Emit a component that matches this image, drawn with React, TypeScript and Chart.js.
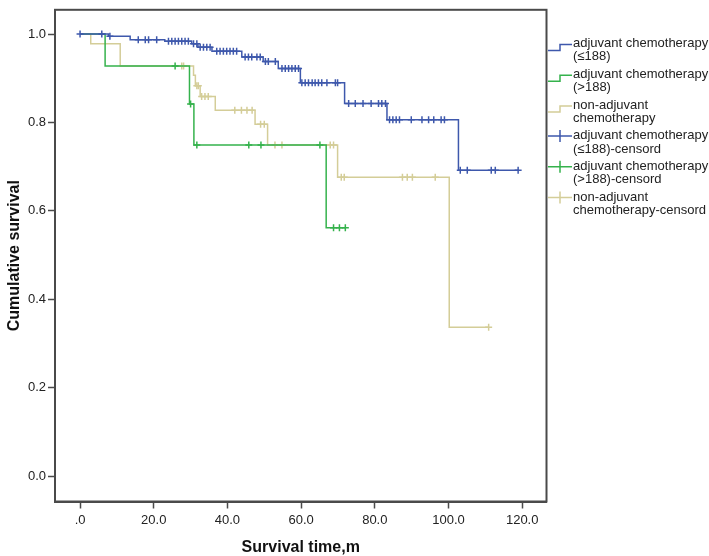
import React, { useEffect, useRef } from "react";
import { Chart, registerables } from "chart.js";
Chart.register(...registerables);

const xTickValues = [0, 20, 40, 60, 80, 100, 120];
const yTickValues = [0, 0.2, 0.4, 0.6, 0.8, 1.0];

// adjuvant chemotherapy (<=188)
const lowTimes = [0, 7.7, 13.6, 23.0, 30.3, 32.0, 35.8, 43.9, 49.7, 53.8, 59.8, 71.8, 83.3, 102.7, 118.9];
const lowSurvival = [1, 0.995, 0.9875, 0.984, 0.978, 0.97, 0.961, 0.948, 0.938, 0.922, 0.89, 0.843, 0.806, 0.692, 0.692];
const lowCensorTimes = [0, 5.9, 8.1, 15.8, 17.7, 18.6, 20.8, 24.0, 24.9, 25.8, 26.7, 27.6, 28.5, 29.4, 30.8, 31.7, 32.6, 33.5, 34.4, 35.3, 37.1, 38.0, 38.9, 39.8, 40.7, 41.6, 42.5, 44.8, 45.7, 46.6, 48.0, 48.9, 50.3, 51.1, 53.0, 54.8, 55.7, 56.6, 57.5, 58.4, 59.3, 60.2, 61.1, 62.0, 63.0, 63.8, 64.7, 65.6, 67.0, 69.3, 69.9, 72.9, 74.7, 76.8, 79.0, 81.0, 81.9, 82.9, 84.0, 84.9, 85.8, 86.7, 89.9, 92.8, 94.6, 96.0, 98.0, 98.9, 103.2, 105.1, 111.6, 112.7, 118.9];

// adjuvant chemotherapy (>188)
const highTimes = [0, 6.8, 29.7, 30.9, 66.8, 72.0];
const highSurvival = [1, 0.928, 0.842, 0.749, 0.562, 0.562];
const highCensorTimes = [25.8, 30.0, 31.7, 45.8, 49.1, 65.1, 68.8, 70.4, 72.0];

// non-adjuvant chemotherapy
const nonTimes = [0, 2.9, 10.9, 30.8, 31.3, 32.6, 36.7, 47.5, 50.9, 69.9, 100.2, 110.9];
const nonSurvival = [1, 0.978, 0.928, 0.907, 0.883, 0.859, 0.828, 0.796, 0.749, 0.676, 0.337, 0.337];
const nonCensorTimes = [27.6, 28.1, 31.7, 32.1, 33.0, 33.9, 34.8, 42.0, 43.8, 45.3, 46.7, 49.0, 50.0, 52.9, 54.8, 67.9, 68.8, 70.9, 71.7, 87.5, 88.8, 90.2, 96.4, 110.9];

const BLUE = "#3e58ac";
const GREEN = "#35b24c";
const BEIGE = "#d4cd98";
const FONT = "'Liberation Sans', Arial, sans-serif";

const legendItems = [
  { kind: "line", color: BLUE, lines: ["adjuvant chemotherapy", "(≤188)"] },
  { kind: "line", color: GREEN, lines: ["adjuvant chemotherapy", "(>188)"] },
  { kind: "line", color: BEIGE, lines: ["non-adjuvant", "chemotherapy"] },
  { kind: "cross", color: BLUE, lines: ["adjuvant chemotherapy", "(≤188)-censord"] },
  { kind: "cross", color: GREEN, lines: ["adjuvant chemotherapy", "(>188)-censord"] },
  { kind: "cross", color: BEIGE, lines: ["non-adjuvant", "chemotherapy-censord"] },
];

function stepAt(times: number[], surv: number[], t: number) {
  let v = surv[0];
  for (let i = 0; i < times.length; i++) if (times[i] <= t) v = surv[i];
  return v;
}

function curve(times: number[], surv: number[]) {
  return times.map((t, i) => ({ x: t, y: surv[i] }));
}

function censors(times: number[], surv: number[], cens: number[]) {
  return cens.map((t) => ({ x: t, y: stepAt(times, surv, t) }));
}

const framePlugin = {
  id: "frameAndLegend",
  afterDraw(chart: any) {
    const { ctx, chartArea } = chart;
    ctx.save();
    ctx.strokeStyle = "#4a4a4a";
    ctx.lineWidth = 2;
    ctx.strokeRect(chartArea.left, chartArea.top, chartArea.right - chartArea.left, chartArea.bottom - chartArea.top);

    // legend
    ctx.font = `13px ${FONT}`;
    ctx.fillStyle = "#222";
    ctx.textBaseline = "middle";
    ctx.textAlign = "left";
    legendItems.forEach((it, i) => {
      const y0 = 43.5 + 30.8 * i;
      ctx.strokeStyle = it.color;
      ctx.lineWidth = 1.5;
      ctx.beginPath();
      if (it.kind === "line") {
        ctx.moveTo(548, y0 + 7);
        ctx.lineTo(560, y0 + 7);
        ctx.lineTo(560, y0 + 1);
        ctx.lineTo(572, y0 + 1);
      } else {
        ctx.moveTo(548, y0);
        ctx.lineTo(572, y0);
        ctx.moveTo(560, y0 - 6);
        ctx.lineTo(560, y0 + 6);
      }
      ctx.stroke();
      it.lines.forEach((s, j) => ctx.fillText(s, 573, y0 + j * 13.2));
    });
    ctx.restore();
  },
};

export default function App() {
  const ref = useRef<HTMLCanvasElement | null>(null);
  useEffect(() => {
    document.body.style.margin = "0";
    const lineDs = (data: any[], color: string) => ({
      data,
      showLine: true,
      stepped: true,
      borderColor: color,
      backgroundColor: color,
      borderWidth: 1.5,
      pointRadius: 0,
      fill: false,
    });
    const censorDs = (data: any[], color: string) => ({
      data,
      showLine: false,
      pointStyle: "cross",
      pointRadius: 3.5,
      pointBorderWidth: 1.5,
      borderColor: color,
      backgroundColor: color,
    });
    const chart = new Chart(ref.current as HTMLCanvasElement, {
      type: "scatter",
      data: {
        datasets: [
          lineDs(curve(lowTimes, lowSurvival), BLUE),
          censorDs(censors(lowTimes, lowSurvival, lowCensorTimes), BLUE),
          lineDs(curve(highTimes, highSurvival), GREEN),
          censorDs(censors(highTimes, highSurvival, highCensorTimes), GREEN),
          lineDs(curve(nonTimes, nonSurvival), BEIGE),
          censorDs(censors(nonTimes, nonSurvival, nonCensorTimes), BEIGE),
        ] as any,
      },
      options: {
        responsive: false,
        animation: false,
        layout: { padding: { left: 0, top: 2, right: 162.5, bottom: 0 } },
        plugins: { legend: { display: false }, tooltip: { enabled: false } },
        scales: {
          x: {
            type: "linear",
            min: -6.8,
            max: 126.6,
            afterFit: (s: any) => { s.height = 54.5; },
            afterBuildTicks: (s: any) => { s.ticks = xTickValues.map((v) => ({ value: v })); },
            grid: { drawOnChartArea: false, drawTicks: true, tickLength: 7, tickColor: "#4a4a4a", tickWidth: 1.5 },
            border: { display: true, color: "#4a4a4a", width: 2 },
            ticks: {
              color: "#222",
              padding: 4,
              font: { family: FONT, size: 13 },
              maxRotation: 0,
              callback: (v: any) => (v === 0 ? ".0" : Number(v).toFixed(1)),
            },
            title: {
              display: true,
              text: "Survival time,m",
              color: "#111",
              font: { family: FONT, size: 16, weight: "bold", lineHeight: 1 },
              padding: { top: 0, bottom: 0 },
            },
          },
          y: {
            type: "linear",
            min: -0.0575,
            max: 1.055,
            afterFit: (s: any) => { s.width = 55; },
            afterBuildTicks: (s: any) => { s.ticks = yTickValues.map((v) => ({ value: v })); },
            grid: { drawOnChartArea: false, drawTicks: true, tickLength: 7, tickColor: "#4a4a4a", tickWidth: 1.5 },
            border: { display: true, color: "#4a4a4a", width: 2 },
            ticks: {
              color: "#222",
              padding: 2,
              font: { family: FONT, size: 13 },
              callback: (v: any) => Number(v).toFixed(1),
            },
            title: {
              display: true,
              text: "Cumulative survival",
              color: "#111",
              font: { family: FONT, size: 16, weight: "bold", lineHeight: 1.2 },
              padding: { top: 5, bottom: 0 },
            },
          },
        },
      },
      plugins: [framePlugin],
    } as any);
    return () => chart.destroy();
  }, []);
  return (
    <div style={{ position: "absolute", left: 0, top: 0, width: 709, height: 556 }}>
      <canvas ref={ref} width={709} height={556} style={{ display: "block" }} />
    </div>
  );
}
